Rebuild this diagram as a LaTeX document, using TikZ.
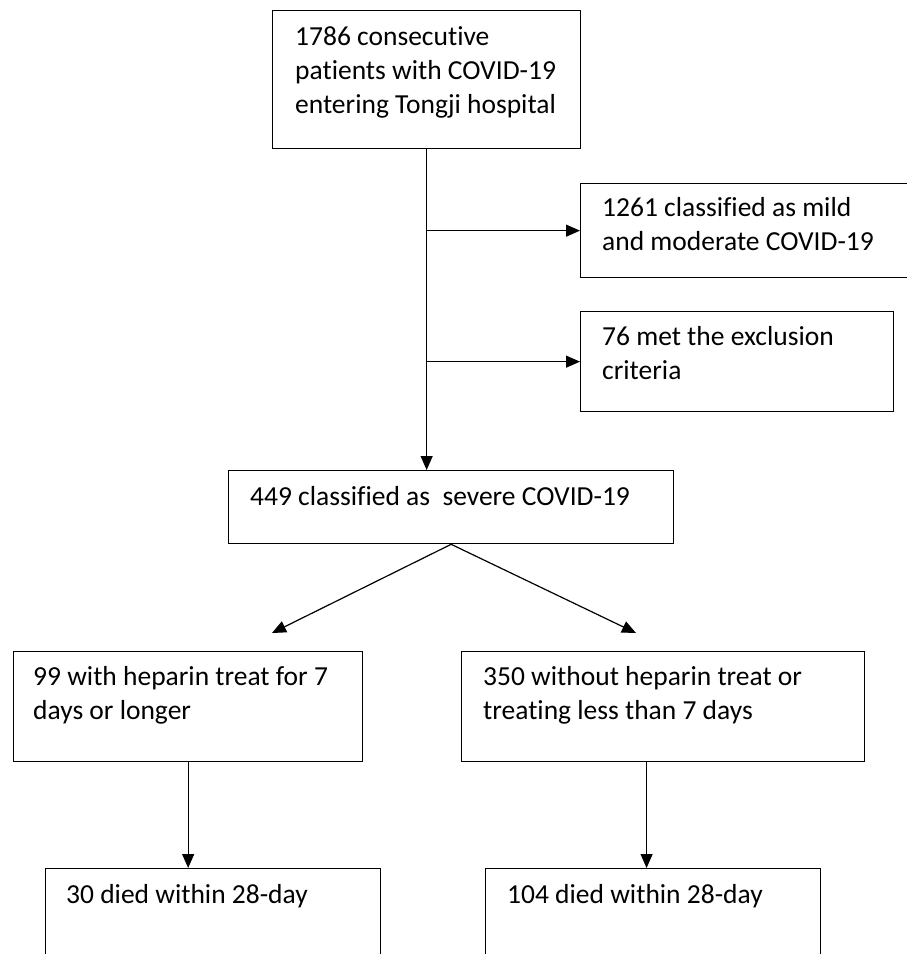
\documentclass[tikz,border=0pt]{standalone}
\usepackage{fontspec}
\setmainfont{Carlito}[Ligatures={NoCommon}]
\usetikzlibrary{arrows.meta,calc}
\newcommand{\mytab}[1]{\begin{tabular}[t]{@{}l@{}}#1\end{tabular}}
\begin{document}
\begin{tikzpicture}[x=1pt,y=-1pt,
  box/.style={draw, line width=1.3pt, rectangle, inner sep=0pt, anchor=north west},
  txt/.style={anchor=base west, inner sep=0pt, font=\fontsize{27.5}{34}\selectfont},
  arr/.style={line width=1.2pt, -{Triangle[length=14pt,width=12pt]}}]
\useasboundingbox (0,0) rectangle (906,954);
\fill[white] (0,0) rectangle (906,954);
% boxes
\node[box, minimum width=308pt, minimum height=138pt] (b1) at (272,10) {};
\node[box, minimum width=330pt, minimum height=94pt]  (b2) at (580,183) {};
\node[box, minimum width=313pt, minimum height=100pt] (b3) at (580,311) {};
\node[box, minimum width=445pt, minimum height=73pt]  (b4) at (228,470) {};
\node[box, minimum width=349pt, minimum height=110pt] (b5) at (13,651) {};
\node[box, minimum width=403pt, minimum height=110pt] (b6) at (461,651) {};
\node[box, minimum width=335pt, minimum height=90pt]  (b7) at (45,868) {};
\node[box, minimum width=335pt, minimum height=90pt]  (b8) at (485,868) {};
% texts
\node[txt] (t1) at (295,45) {\mytab{1786 consecutive\\patients with COVID-19\\entering Tongji hospital}};
\node[txt] (t2) at (602,216) {\mytab{1261 classified as mild\\and moderate COVID-19}};
\node[txt] (t3) at (602,345) {\mytab{76 met the exclusion\\criteria}};
\node[txt] (t4) at (250,505) {449 classified as\ \ severe COVID-19};
\node[txt] (t5) at (33,685) {\mytab{99 with heparin treat for 7\\days or longer}};
\node[txt] (t6) at (483,685) {\mytab{350 without heparin treat or\\treating less than 7 days}};
\node[txt] (t7) at (66,903) {30 died within 28-day};
\node[txt] (t8) at (507,903) {104 died within 28-day};
% connectors
\coordinate (j2) at (b1.south |- b2.west);
\coordinate (j3) at (b1.south |- b3.west);
\draw[arr] (b1.south) -- (b1.south |- b4.north);
\draw[arr] (j2) -- (b2.west);
\draw[arr] (j3) -- (b3.west);
\coordinate (L) at (272,633);
\coordinate (R) at (636,633);
\draw[arr] (b4.south) -- (L);
\draw[arr] (b4.south) -- (R);
\draw[arr] (b5.south) -- (b5.south |- b7.north);
\coordinate (a6) at ($(b6.south west)!0.459!(b6.south east)$);
\draw[arr] (a6) -- (a6 |- b8.north);
\end{tikzpicture}
\end{document}
